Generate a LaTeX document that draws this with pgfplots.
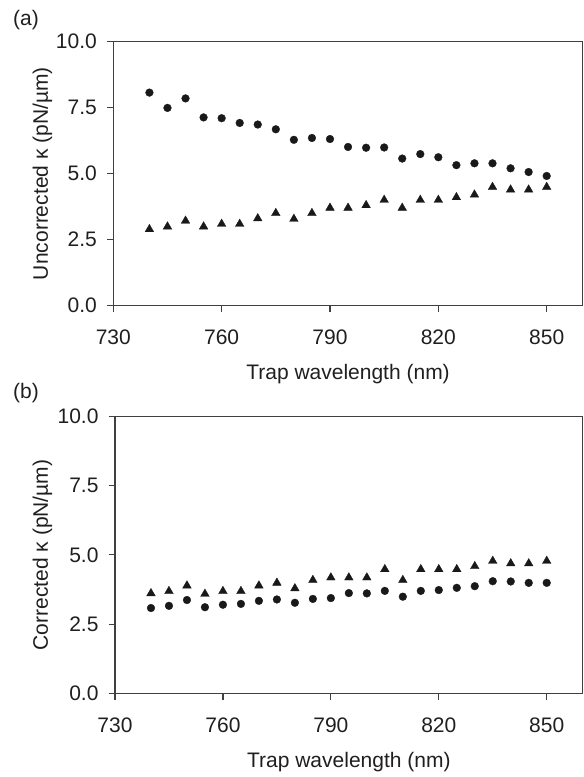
\documentclass[border=0pt]{standalone}
\usepackage{pgfplots}
\pgfplotsset{compat=1.18}
\usepackage{pgfplotstable}
\usepackage{fontspec}
\setmainfont{Liberation Sans}
\newcommand\ff{\fontsize{21}{25}\selectfont}

\pgfplotstableread{
x circ tri
740 8.07 2.89
745 7.49 2.99
750 7.85 3.21
755 7.13 2.99
760 7.10 3.09
765 6.92 3.09
770 6.86 3.30
775 6.68 3.50
780 6.28 3.28
785 6.35 3.50
790 6.31 3.70
795 6.01 3.70
800 5.98 3.80
805 5.99 4.00
810 5.57 3.70
815 5.74 4.00
820 5.62 4.00
825 5.32 4.10
830 5.39 4.20
835 5.39 4.49
840 5.20 4.39
845 5.06 4.39
850 4.91 4.49
}\tabA

\pgfplotstableread{
x circ tri
740 3.08 3.61
745 3.16 3.69
750 3.37 3.89
755 3.11 3.59
760 3.20 3.69
765 3.23 3.69
770 3.34 3.89
775 3.39 3.99
780 3.27 3.79
785 3.41 4.09
790 3.44 4.18
795 3.62 4.18
800 3.61 4.18
805 3.70 4.48
810 3.49 4.09
815 3.70 4.48
820 3.73 4.48
825 3.81 4.48
830 3.87 4.59
835 4.05 4.78
840 4.04 4.69
845 3.99 4.69
850 3.99 4.78
}\tabB

\pgfplotsset{
  myax/.style={
    scale only axis,
    xmin=730, xmax=860, ymin=0, ymax=10,
    xtick={730,760,790,820,850}, xticklabels={730,760,790,820,850},
    ytick={0,2.5,5,7.5,10}, yticklabels={0.0,2.5,5.0,7.5,10.0},
    tick align=outside, xtick pos=bottom, ytick pos=left,
    major tick length=6.5pt,
    axis line style={draw=black!75, line width=1.2pt},
    tick style={draw=black!75, line width=1.2pt},
    tick label style={font=\ff, text=black!88, inner sep=0pt},
    xticklabel style={anchor=north, yshift=-18pt},
    yticklabel style={anchor=east, xshift=-9.8pt},
    label style={font=\ff, text=black!88, inner sep=0pt},
    xlabel style={at={(axis description cs:0.5,0)}, anchor=center, yshift=-69pt},
    clip=false,
  },
  circ/.style={only marks, mark=*, mark size=3.9pt, draw=black!90, fill=black!90, mark options={line width=0.3pt}},
  tri/.style={only marks, mark=triangle*, mark size=5pt, draw=black!90, fill=black!90, mark options={line width=0.3pt}},
}

\begin{document}
\begin{tikzpicture}[x=1pt,y=1pt]
\path[use as bounding box] (0,0) rectangle (584,777);
\begin{axis}[myax,
  at={(113.3pt,471.5pt)}, anchor=south west,
  width=469.5pt, height=263.8pt,
  xlabel={Trap wavelength (nm)},
  ylabel={Uncorrected κ (pN/µm)},
  ylabel style={at={(axis description cs:-0.1508,0.5)}, anchor=center, rotate=0},
]
\addplot[circ] table[x=x,y=circ] {\tabA};
\addplot[tri] table[x=x,y=tri] {\tabA};
\end{axis}
\begin{axis}[myax,
  at={(115pt,83.7pt)}, anchor=south west,
  width=467.7pt, height=276.8pt,
  xlabel={Trap wavelength (nm)},
  ylabel={Corrected κ (pN/µm)},
  ylabel style={at={(axis description cs:-0.155,0.5)}, anchor=center, rotate=0},
]
\addplot[circ] table[x=x,y=circ] {\tabB};
\addplot[tri] table[x=x,y=tri] {\tabB};
\end{axis}
\node[font=\ff, text=black!88, anchor=west, inner sep=0pt] at (13pt,757pt) {(a)};
\node[font=\ff, text=black!88, anchor=west, inner sep=0pt] at (13pt,384pt) {(b)};
\end{tikzpicture}
\end{document}
